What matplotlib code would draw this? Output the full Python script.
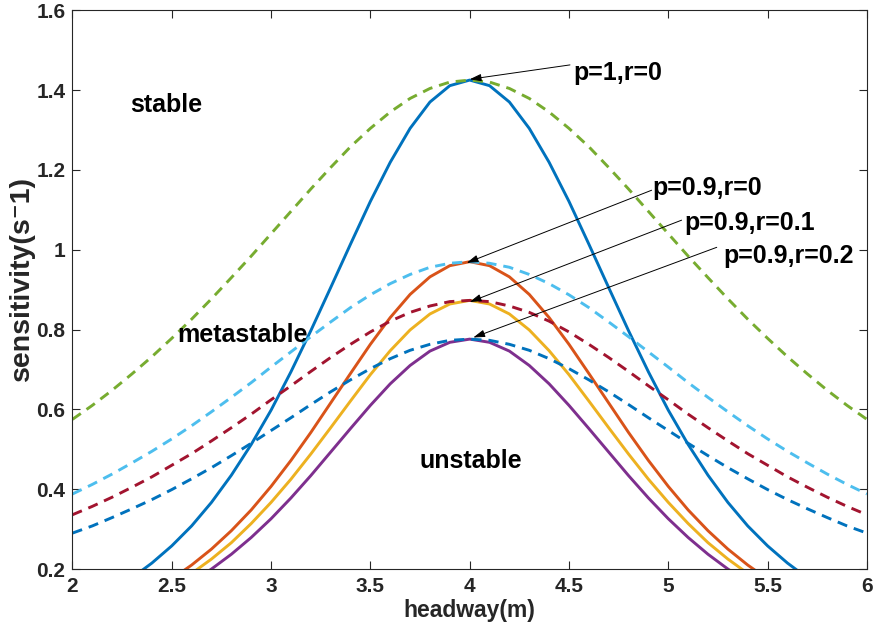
import numpy as np
import matplotlib
matplotlib.use('Agg')
import matplotlib.pyplot as plt

plt.rcParams['font.family'] = ['Liberation Sans', 'DejaVu Sans']
plt.rcParams['font.weight'] = 'bold'

# headway grid (m), step 0.1 from 2 to 6
headway = np.round(np.arange(2.0, 6.0001, 0.1), 1)

# solid curves (symmetric about 4)
solid_p1_r0 = [0.101, 0.122, 0.148, 0.178, 0.215, 0.258, 0.308, 0.367, 0.435, 0.512,
               0.598, 0.694, 0.797, 0.905, 1.014, 1.121, 1.219, 1.304, 1.370, 1.411,
               1.425,
               1.411, 1.370, 1.304, 1.219, 1.121, 1.014, 0.905, 0.797, 0.694, 0.598,
               0.512, 0.435, 0.367, 0.308, 0.258, 0.215, 0.178, 0.148, 0.122, 0.101]
solid_p09_r0 = [0.069, 0.083, 0.100, 0.121, 0.146, 0.175, 0.210, 0.250, 0.296, 0.348,
                0.407, 0.472, 0.542, 0.616, 0.690, 0.763, 0.830, 0.888, 0.932, 0.960,
                0.970,
                0.960, 0.932, 0.888, 0.830, 0.763, 0.690, 0.616, 0.542, 0.472, 0.407,
                0.348, 0.296, 0.250, 0.210, 0.175, 0.146, 0.121, 0.100, 0.083, 0.069]
solid_p09_r01 = [0.062, 0.075, 0.090, 0.109, 0.131, 0.158, 0.189, 0.225, 0.266, 0.314,
                 0.367, 0.425, 0.488, 0.554, 0.621, 0.687, 0.747, 0.799, 0.839, 0.864,
                 0.873,
                 0.864, 0.839, 0.799, 0.747, 0.687, 0.621, 0.554, 0.488, 0.425, 0.367,
                 0.314, 0.266, 0.225, 0.189, 0.158, 0.131, 0.109, 0.090, 0.075, 0.062]
solid_p09_r02 = [0.055, 0.066, 0.080, 0.097, 0.117, 0.140, 0.168, 0.200, 0.237, 0.279,
                 0.326, 0.378, 0.434, 0.493, 0.552, 0.610, 0.664, 0.710, 0.746, 0.768,
                 0.776,
                 0.768, 0.746, 0.710, 0.664, 0.610, 0.552, 0.493, 0.434, 0.378, 0.326,
                 0.279, 0.237, 0.200, 0.168, 0.140, 0.117, 0.097, 0.080, 0.066, 0.055]

# dashed curves
dash_p1_r0 = [0.575, 0.610, 0.648, 0.689, 0.732, 0.778, 0.826, 0.877, 0.930, 0.984,
              1.040, 1.096, 1.152, 1.206, 1.258, 1.304, 1.345, 1.379, 1.404, 1.420,
              1.425,
              1.420, 1.404, 1.379, 1.345, 1.304, 1.258, 1.206, 1.152, 1.096, 1.040,
              0.984, 0.930, 0.877, 0.826, 0.778, 0.732, 0.689, 0.648, 0.610, 0.575]
dash_p09_r0 = [0.388, 0.412, 0.438, 0.466, 0.495, 0.526, 0.559, 0.594, 0.630, 0.667,
               0.706, 0.744, 0.782, 0.819, 0.855, 0.887, 0.915, 0.938, 0.956, 0.966,
               0.970,
               0.966, 0.956, 0.938, 0.915, 0.887, 0.855, 0.819, 0.782, 0.744, 0.706,
               0.667, 0.630, 0.594, 0.559, 0.526, 0.495, 0.466, 0.438, 0.412, 0.388]
dash_p09_r01 = [0.336, 0.357, 0.380, 0.405, 0.431, 0.460, 0.489, 0.521, 0.554, 0.588,
                0.624, 0.659, 0.695, 0.730, 0.763, 0.794, 0.821, 0.843, 0.859, 0.870,
                0.873,
                0.870, 0.859, 0.843, 0.821, 0.794, 0.763, 0.730, 0.695, 0.659, 0.624,
                0.588, 0.554, 0.521, 0.489, 0.460, 0.431, 0.405, 0.380, 0.357, 0.336]
dash_p09_r02 = [0.290, 0.308, 0.329, 0.351, 0.374, 0.399, 0.426, 0.454, 0.484, 0.515,
                0.547, 0.579, 0.612, 0.644, 0.674, 0.702, 0.727, 0.748, 0.763, 0.773,
                0.776,
                0.773, 0.763, 0.748, 0.727, 0.702, 0.674, 0.644, 0.612, 0.579, 0.547,
                0.515, 0.484, 0.454, 0.426, 0.399, 0.374, 0.351, 0.329, 0.308, 0.290]

solid_curves = [solid_p1_r0, solid_p09_r0, solid_p09_r01, solid_p09_r02]
solid_colors = ['#0072BD', '#D95319', '#EDB120', '#7E2F8E']
dash_curves = [dash_p1_r0, dash_p09_r0, dash_p09_r01, dash_p09_r02]
dash_colors = ['#77AC30', '#4DBEEE', '#A2142F', '#0072BD']

# annotation labels: (text, text position, arrow head)
arrow_labels = ['p=1,r=0', 'p=0.9,r=0', 'p=0.9,r=0.1', 'p=0.9,r=0.2']
label_xy = [(4.52, 1.425), (4.92, 1.137), (5.082, 1.049), (5.277, 0.966)]
tail_xy = [(4.505, 1.463), (4.916, 1.149), (5.067, 1.074), (5.244, 1.006)]
head_xy = [(4.0, 1.427), (3.985, 0.967), (4.0, 0.869), (4.018, 0.780)]

fig = plt.figure(figsize=(8.73, 6.39), dpi=100)
ax = fig.add_axes([0.083, 0.1095, 0.910, 0.8745])

for y, c in zip(solid_curves, solid_colors):
    ax.plot(headway, y, color=c, lw=2.1)
for y, c in zip(dash_curves, dash_colors):
    ax.plot(headway, y, color=c, lw=2.1, linestyle=(0, (3.5, 2.4)))

for txt, lxy, txy, hxy in zip(arrow_labels, label_xy, tail_xy, head_xy):
    ax.text(lxy[0], lxy[1], txt, fontsize=18, fontweight='bold', ha='left', va='baseline')
    ax.annotate('', xy=hxy, xytext=txy,
                arrowprops=dict(arrowstyle='-|>,head_length=0.7,head_width=0.22',
                                color='black', lw=0.7, shrinkA=0, shrinkB=0))

ax.text(2.471, 1.345, 'stable', fontsize=18, fontweight='bold', ha='center', va='baseline')
ax.text(2.854, 0.769, 'metastable', fontsize=18, fontweight='bold', ha='center', va='baseline')
ax.text(4.007, 0.454, 'unstable', fontsize=18, fontweight='bold', ha='center', va='baseline')

ax.set_xlim(2, 6)
ax.set_ylim(0.2, 1.6)
ax.set_xticks([2, 2.5, 3, 3.5, 4, 4.5, 5, 5.5, 6])
ax.set_xticklabels(['2', '2.5', '3', '3.5', '4', '4.5', '5', '5.5', '6'])
ax.set_yticks([0.2, 0.4, 0.6, 0.8, 1.0, 1.2, 1.4, 1.6])
ax.set_yticklabels(['0.2', '0.4', '0.6', '0.8', '1', '1.2', '1.4', '1.6'])
ax.tick_params(direction='in', length=6, width=0.8, colors='#262626',
               top=True, right=True, labelsize=15, pad=6)
ax.tick_params(axis='y', pad=5)
for lab in ax.get_xticklabels() + ax.get_yticklabels():
    lab.set_fontweight('bold')
for s in ax.spines.values():
    s.set_color('#262626')
    s.set_linewidth(0.8)

ax.set_xlabel('headway(m)', fontsize=16.5, fontweight='bold', color='#262626', labelpad=2)
ax.set_ylabel('sensitivity(s\u207b1)', fontsize=20.5, fontweight='bold', color='#262626')
ax.yaxis.set_label_coords(-0.047, 0.52)

fig.savefig('out.png', dpi=100)
